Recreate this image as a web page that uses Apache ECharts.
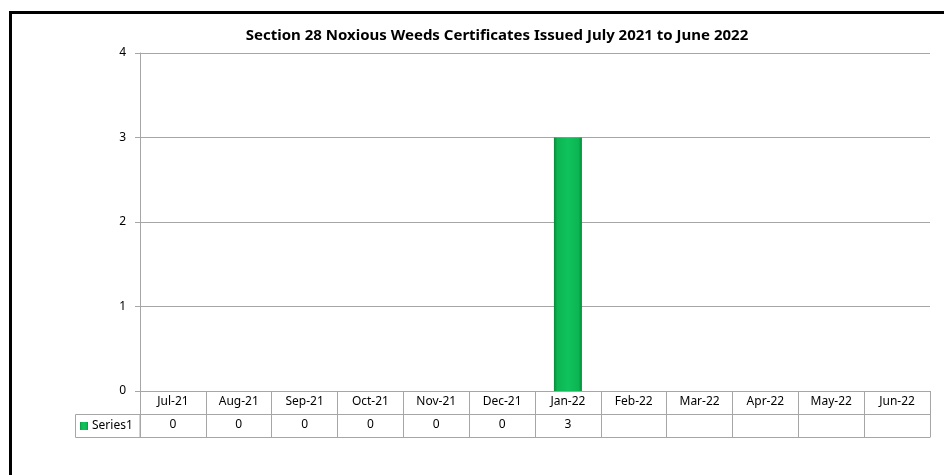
<!DOCTYPE html>
<html>
<head>
<meta charset="utf-8">
<script src="https://cdn.jsdelivr.net/npm/echarts@6/dist/echarts.min.js"></script>
<style>
html,body{margin:0;padding:0;background:#fff;}
#chart{width:944px;height:475px;}
</style>
</head>
<body>
<div id="chart"></div>
<script>
var titleText = 'Section 28 Noxious Weeds Certificates Issued July 2021 to June 2022';
var categories = ['Jul-21','Aug-21','Sep-21','Oct-21','Nov-21','Dec-21','Jan-22','Feb-22','Mar-22','Apr-22','May-22','Jun-22'];
var seriesName = 'Series1';
var values = [0,0,0,0,0,0,3,null,null,null,null,null];
var yTicks = [0,1,2,3,4];

var font = 'Noto Sans';
var valueLabels = values.map(function(v){ return v == null ? '' : String(v); });
var gridColor = '#a6a6a6';

var chart = echarts.init(document.getElementById('chart'), null, {renderer:'canvas'});
var barGrad = new echarts.graphic.LinearGradient(0,0,1,0,[
  {offset:0, color:'#078a3a'},
  {offset:0.12, color:'#0cb552'},
  {offset:0.5, color:'#10c35c'},
  {offset:0.88, color:'#0cb552'},
  {offset:1, color:'#078a3a'}
]);
chart.setOption({
  animation:false,
  backgroundColor:'#fff',
  textStyle:{fontFamily:font},
  title:{
    text:titleText, left:492, textAlign:'center', top:23,
    textStyle:{fontFamily:font, fontSize:15, fontWeight:'bold', color:'#000'}
  },
  legend:{
    data:[{name:seriesName, icon:'rect'}],
    left:80, top:420, padding:0, itemWidth:8, itemHeight:8, itemGap:3,
    textStyle:{fontFamily:font, fontSize:12, color:'#000', padding:[0,0,0,-1]},
    selectedMode:false
  },
  grid:{left:140, right:14, top:53, bottom:84, containLabel:false},
  xAxis:[
    {
      type:'category', data:categories, position:'bottom', boundaryGap:true,
      axisLine:{show:true, lineStyle:{color:gridColor, width:1}},
      axisTick:{show:true, interval:0, length:46, lineStyle:{color:gridColor}},
      axisLabel:{interval:0, fontFamily:font, fontSize:12, color:'#000', margin:5}
    },
    {
      type:'category', data:valueLabels, position:'bottom', offset:23, boundaryGap:true,
      axisLine:{show:true, lineStyle:{color:gridColor, width:1}},
      axisTick:{show:false},
      axisLabel:{interval:0, fontFamily:font, fontSize:12, color:'#000', margin:5}
    },
    {
      type:'category', data:categories, position:'bottom', offset:46, boundaryGap:true,
      axisLine:{show:true, lineStyle:{color:gridColor, width:1}},
      axisTick:{show:false},
      axisLabel:{show:false}
    }
  ],
  yAxis:{
    type:'value', min:yTicks[0], max:yTicks[yTicks.length-1], interval:1,
    axisLine:{show:true, lineStyle:{color:gridColor}},
    axisTick:{show:true, length:5, lineStyle:{color:gridColor}},
    axisLabel:{fontFamily:font, fontSize:12, color:'#000', margin:14},
    splitLine:{show:true, lineStyle:{color:gridColor, width:1}}
  },
  series:[{
    name:seriesName, type:'bar', xAxisIndex:0, data:values, barWidth:28,
    itemStyle:{color:barGrad, borderWidth:0},
    color:'#0cb552'
  }],
  graphic:[
    {type:'rect', shape:{x:75.5, y:414.5, width:64.5, height:23}, style:{fill:'none', stroke:gridColor, lineWidth:1}, z:10},
    {type:'line', shape:{x1:9, y1:12.5, x2:944, y2:12.5}, style:{stroke:'#000', lineWidth:3}, z:20},
    {type:'line', shape:{x1:10.5, y1:11, x2:10.5, y2:475}, style:{stroke:'#000', lineWidth:3}, z:20}
  ]
});
</script>
</body>
</html>
